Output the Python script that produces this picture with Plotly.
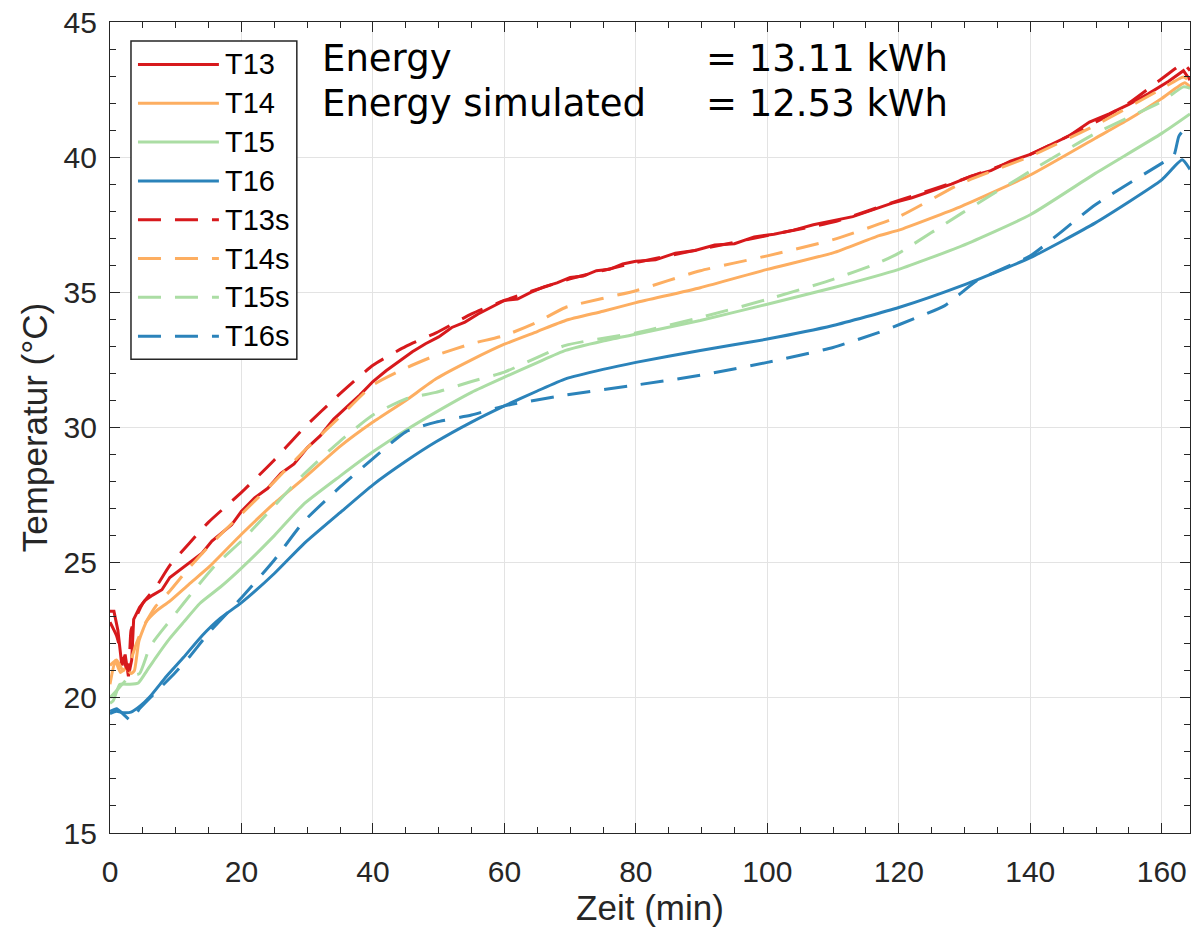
import plotly.graph_objects as go

# ---------------- data ----------------
series_names = ["T13", "T14", "T15", "T16", "T13s", "T14s", "T15s", "T16s"]

t13_t = [0, 0.6, 1.2, 1.8, 2.3, 2.8, 3.3, 3.6, 4.5, 5.3, 6.5, 7.9, 9.1, 11, 12.5, 14, 15.5, 17, 18.5, 20,
         22, 24, 26, 28, 30, 32, 34, 36, 38, 40, 42, 44, 46, 48, 50, 52, 54, 56, 58, 60, 62, 64, 66, 68,
         70, 72, 74, 76, 78, 80, 83, 86, 89, 92, 95, 98, 101, 104, 107, 110, 113, 116, 119, 122, 125, 128,
         131, 134, 137, 140, 143, 146, 149, 152, 155, 158, 161, 163.3, 164.3]
t13_v = [23.2, 23.2, 22.5, 21.2, 21.6, 20.8, 21.4, 22.9, 23.35, 23.6, 23.8, 24.0, 24.45, 24.8, 25.1, 25.35,
         25.8, 26.1, 26.4, 26.9, 27.4, 27.75, 28.3, 28.65, 29.25, 29.7, 30.3, 30.75, 31.2, 31.7, 32.1, 32.45,
         32.8, 33.1, 33.35, 33.7, 33.9, 34.2, 34.45, 34.7, 34.75, 35.0, 35.2, 35.35, 35.55, 35.6, 35.8, 35.85,
         36.05, 36.15, 36.2, 36.45, 36.55, 36.75, 36.8, 37.05, 37.15, 37.3, 37.5, 37.65, 37.8, 38.05, 38.3,
         38.5, 38.75, 39.0, 39.3, 39.5, 39.85, 40.1, 40.45, 40.8, 41.3, 41.6, 41.95, 42.35, 42.8, 43.2, 42.85]

t14_t = [0, 0.8, 1.6, 2.4, 3.2, 3.7, 4.4, 5.6, 7, 9.1, 12, 15.2, 20, 25, 29.4, 35, 40, 45, 49.6, 55, 60,
         65, 69.3, 75, 80, 89.8, 100, 110, 117, 120, 129.6, 140, 149.9, 155, 160, 163.5, 164.3]
t14_v = [20.5, 21.37, 20.94, 21.1, 20.9, 21.0, 22.1, 22.84, 23.2, 23.58, 24.2, 24.87, 26.05, 27.2, 28.1,
         29.3, 30.2, 31.0, 31.8, 32.5, 33.08, 33.55, 33.96, 34.3, 34.62, 35.17, 35.85, 36.46, 37.1, 37.3,
         38.19, 39.34, 40.7, 41.4, 42.17, 42.75, 42.6]

t15_t = [0, 0.5, 1.5, 3, 4.3, 5.6, 7, 9.1, 11.2, 13.7, 16.8, 20, 25, 29.4, 35, 40, 45, 49.6, 55, 60, 65,
         69.3, 75, 80, 89.8, 100, 110, 120, 129.6, 140, 149.9, 160, 164.3]
t15_v = [19.8, 19.9, 20.5, 20.5, 20.55, 21.0, 21.5, 22.2, 22.8, 23.5, 24.1, 24.8, 26.0, 27.15, 28.2, 29.1,
         29.9, 30.57, 31.3, 31.86, 32.4, 32.85, 33.2, 33.45, 33.96, 34.56, 35.17, 35.85, 36.72, 37.87, 39.4,
         40.88, 41.6]

t16_t = [0, 1, 2, 3.2, 4.6, 6.1, 8.6, 11.2, 14, 16.8, 20, 25, 29.4, 35, 40, 45, 49.6, 55, 60, 65, 69.3,
         75, 80, 89.8, 100, 110, 120, 129.6, 140, 149.9, 160, 163.1, 164.3]
t16_v = [19.42, 19.5, 19.45, 19.47, 19.7, 20.05, 20.8, 21.5, 22.3, 22.95, 23.52, 24.6, 25.68, 26.85, 27.88,
         28.75, 29.47, 30.2, 30.8, 31.35, 31.8, 32.15, 32.41, 32.85, 33.27, 33.77, 34.44, 35.25, 36.28,
         37.57, 39.16, 39.9, 39.55]

t13s_t = [0, 1, 2, 2.8, 3.2, 4, 5, 7, 9.1, 12, 15, 20, 25, 29.4, 35, 40, 45, 49.6, 55, 60, 70, 80, 90, 100,
          110, 120, 130, 140, 150, 155, 160, 163.3, 164.3]
t13s_v = [22.8, 22.3, 21.4, 21.0, 22.5, 23.0, 23.5, 24.1, 24.9, 25.7, 26.5, 27.6, 28.8, 29.96, 31.25, 32.3,
          33.0, 33.5, 34.2, 34.7, 35.5, 36.1, 36.6, 37.1, 37.6, 38.4, 39.2, 40.1, 41.3, 42.0, 42.9, 43.45,
          43.2]

t14s_t = [0, 1, 2, 3, 4, 5, 7, 9.1, 12, 15, 20, 25, 29.4, 35, 40, 45, 49.6, 55, 60, 65, 69.3, 80, 89.8,
          100, 110, 120, 129.6, 140, 149.9, 160, 163.3, 164.3]
t14s_v = [21.2, 21.4, 21.0, 21.3, 22.0, 22.6, 23.4, 23.95, 24.8, 25.6, 26.8, 28.0, 29.1, 30.4, 31.57, 32.2,
          32.67, 33.1, 33.4, 33.9, 34.44, 35.06, 35.8, 36.35, 36.95, 37.8, 39.04, 40.03, 41.18, 42.53,
          42.97, 42.8]

t15s_t = [0, 1.5, 3, 4.5, 6.1, 8.6, 11.2, 13.2, 16, 20, 25, 29.4, 35, 40, 45, 49.6, 55, 60, 69.3, 80, 89.8,
          100, 110, 117, 120, 129.6, 140, 149.9, 160, 163.3, 164.3]
t15s_v = [20.0, 20.4, 20.8, 20.9, 21.9, 22.7, 23.5, 24.1, 24.9, 25.8, 27.1, 28.25, 29.5, 30.46, 31.06,
          31.3, 31.7, 32.05, 33.04, 33.5, 34.07, 34.74, 35.48, 36.1, 36.45, 37.93, 39.48, 40.88, 42.06,
          42.6, 42.55]

t16s_t = [0, 1, 2, 3.2, 4.5, 6.5, 9.8, 12.2, 15, 20, 25, 29.4, 35, 40, 45, 49.6, 55, 60, 69.3, 80, 89.8,
          100, 110, 117, 120.2, 127, 132, 140, 149.9, 160, 161.8, 162.6, 163.4, 164.3]
t16s_v = [19.5, 19.6, 19.4, 19.16, 19.6, 20.1, 20.9, 21.55, 22.4, 23.7, 25.1, 26.5, 27.8, 28.85, 29.84,
          30.2, 30.46, 30.8, 31.2, 31.57, 31.93, 32.41, 32.96, 33.52, 33.82, 34.51, 35.45, 36.35, 38.24,
          39.77, 40.03, 40.77, 41.0, 40.7]

x_ticks = [0, 20, 40, 60, 80, 100, 120, 140, 160]
y_ticks = [15, 20, 25, 30, 35, 40, 45]
x_title = "Zeit (min)"
y_title = "Temperatur (°C)"
energy_labels = ["Energy", "Energy simulated"]
energy_values = ["= 13.11 kWh", "= 12.53 kWh"]

# ---------------- styling ----------------
colors = ["#d7191c", "#fdae61", "#abdda4", "#2b83ba"]
DASH = "23px,14px"
W, H = 1196, 930
L, R, T, B = 110, 1191, 18, 833   # plot-area pixel box
SANS = "Liberation Sans, Arial, sans-serif"

def px_x(px):
    return (px - L) / (R - L)

def px_y(py):
    return (B - py) / (B - T)

series = [
    (t13_t, t13_v), (t14_t, t14_v), (t15_t, t15_v), (t16_t, t16_v),
    (t13s_t, t13s_v), (t14s_t, t14s_v), (t15s_t, t15s_v), (t16s_t, t16s_v),
]

fig = go.Figure()
for i, (name, (tt, vv)) in enumerate(zip(series_names, series)):
    fig.add_trace(go.Scatter(
        x=tt, y=vv, name=name, mode="lines",
        line=dict(color=colors[i % 4], width=3, dash=("solid" if i < 4 else DASH),
                  shape=("linear" if i == 0 else "spline"), smoothing=0.5),
        showlegend=False, hoverinfo="x+y+name",
    ))

axis_common = dict(
    showline=True, linecolor="#262626", linewidth=1.3, mirror="allticks",
    ticks="inside", ticklen=10, tickwidth=1.3, tickcolor="#262626",
    showgrid=True, gridcolor="#e3e3e3", gridwidth=1, zeroline=False,
    tickfont=dict(family=SANS, size=30, color="#262626"),
)

fig.update_xaxes(
    range=[0, 164.3], tickmode="array", tickvals=x_ticks, ticktext=[str(v) for v in x_ticks],
    minor=dict(ticks="inside", dtick=5, ticklen=5.5, tickwidth=1.3, tickcolor="#262626", showgrid=False),
    title=dict(text=x_title, font=dict(family=SANS, size=35, color="#262626"), standoff=8),
    ticklabelstandoff=12,
    **axis_common,
)
fig.update_yaxes(
    range=[15, 45], tickmode="array", tickvals=y_ticks, ticktext=[str(v) for v in y_ticks],
    minor=dict(ticks="inside", dtick=1, ticklen=5.5, tickwidth=1.3, tickcolor="#262626", showgrid=False),
    title=dict(text=y_title, font=dict(family=SANS, size=35, color="#262626"), standoff=5),
    ticklabelstandoff=6,
    **axis_common,
)

shapes = []
annotations = []

# manual legend (MATLAB style: long line samples)
box_x0, box_x1, box_y0, box_y1 = 131, 297, 37, 357
shapes.append(dict(type="rect", xref="paper", yref="paper",
                   x0=px_x(box_x0), x1=px_x(box_x1), y0=px_y(box_y1), y1=px_y(box_y0),
                   line=dict(color="#262626", width=1.5), fillcolor="white", layer="above"))
entry_y0, entry_dy = 60.7, 39.0
for i, name in enumerate(series_names):
    yy = px_y(entry_y0 + i * entry_dy)
    shapes.append(dict(type="line", xref="paper", yref="paper",
                       x0=px_x(138), x1=px_x(219), y0=yy, y1=yy, layer="above",
                       line=dict(color=colors[i % 4], width=3, dash=("solid" if i < 4 else DASH))))
    annotations.append(dict(xref="paper", yref="paper", x=px_x(223), y=yy, text=name, showarrow=False,
                            xanchor="left", yanchor="middle",
                            font=dict(family=SANS, size=29, color="black")))

# energy text
text_font = dict(family="DejaVu Sans, sans-serif", size=37, color="black")
line_ys = [55, 100]
for lab, val, py in zip(energy_labels, energy_values, line_ys):
    annotations.append(dict(xref="paper", yref="paper", x=px_x(320), y=px_y(py), text=lab, showarrow=False,
                            xanchor="left", yanchor="middle", font=text_font))
    annotations.append(dict(xref="paper", yref="paper", x=px_x(705), y=px_y(py), text=val, showarrow=False,
                            xanchor="left", yanchor="middle", font=text_font))

fig.update_layout(
    width=W, height=H,
    margin=dict(l=L, r=W - R, t=T, b=H - B, pad=0),
    paper_bgcolor="white", plot_bgcolor="white",
    showlegend=False,
    shapes=shapes, annotations=annotations,
)

fig.write_html("out.html", config={"displayModeBar": False},
               post_script="document.body.style.margin='0';")
